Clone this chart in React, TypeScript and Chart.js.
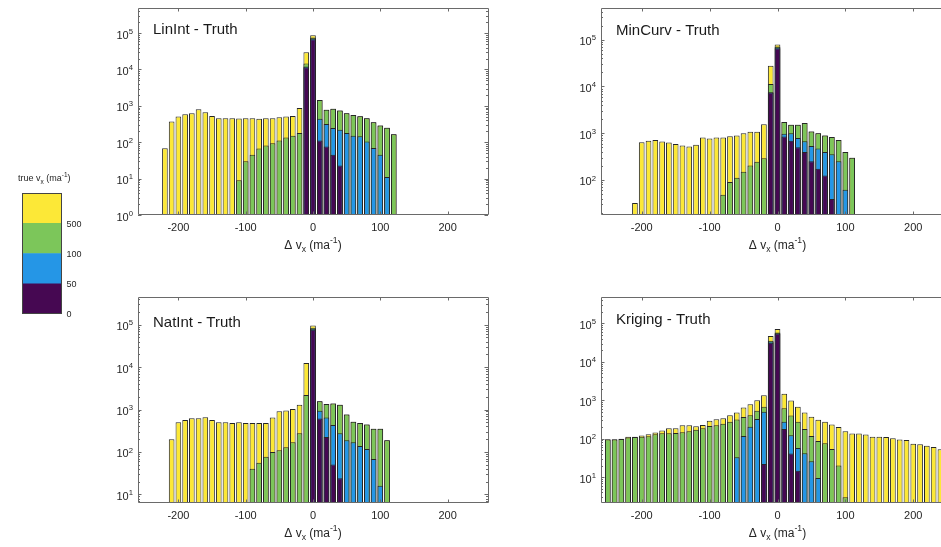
import React, { useEffect, useRef } from 'react';
import { Chart, registerables } from 'chart.js';

Chart.register(...registerables);

const FONT = '"Liberation Sans", Arial, Helvetica, sans-serif';
const TEXT = '#262626';
const AXIS = '#6a6a6a';
const EDGE = '#262626';

// Colour classes of the true velocity (ma^-1)
const C_LT50 = '#460852';
const C_LT100 = '#2596E6';
const C_LT500 = '#7CC65A';
const C_ALL = '#FCE837';

const xTicks = [-200, -100, 0, 100, 200];
const xMin = -260;
const xMax = 260;

// ---- LinInt - Truth ----
const linBins = [-220, -210, -200, -190, -180, -170, -160, -150, -140, -130, -120, -110, -100, -90, -80, -70, -60, -50, -40, -30, -20, -10, 0, 10, 20, 30, 40, 50, 60, 70, 80, 90, 100, 110, 120];
const linAll = [68, 372, 510, 590, 630, 810, 670, 525, 455, 455, 455, 450, 460, 460, 440, 460, 460, 490, 510, 525, 870, 30000, 88000, 1460, 780, 830, 740, 630, 565, 520, 455, 356, 290, 250, 167];
const linLt500 = [null, null, null, null, null, null, null, null, null, null, null, 9, 30, 45, 67, 81, 94, 112, 135, 150, 180, 14500, 76000, 1460, 780, 830, 740, 630, 565, 520, 455, 356, 290, 250, 167];
const linLt100 = [null, null, null, null, null, null, null, null, null, null, null, null, null, null, null, null, null, null, null, null, null, 12000, 72000, 440, 317, 245, 220, 180, 150, 145, 105, 70, 45, 11, null];
const linLt50 = [null, null, null, null, null, null, null, null, null, null, null, null, null, null, null, null, null, null, null, null, null, 11500, 68000, 112, 76, 45, 23, null, null, null, null, null, null, null, null];

// ---- MinCurv - Truth ----
const minBins = [-210, -200, -190, -180, -170, -160, -150, -140, -130, -120, -110, -100, -90, -80, -70, -60, -50, -40, -30, -20, -10, 0, 10, 20, 30, 40, 50, 60, 70, 80, 90, 100, 110];
const minAll = [32, 645, 690, 720, 665, 630, 590, 545, 520, 570, 815, 770, 810, 810, 865, 890, 1000, 1070, 1070, 1560, 27800, 79000, 1740, 1510, 1510, 1660, 1090, 1000, 890, 830, 720, 395, 300];
const minLt500 = [null, null, null, null, null, null, null, null, null, null, null, null, null, 48, 90, 112, 150, 205, 245, 290, 11300, 72000, 1740, 1510, 1510, 1660, 1090, 1000, 890, 830, 720, 395, 300];
const minLt100 = [null, null, null, null, null, null, null, null, null, null, null, null, null, null, null, null, null, null, null, null, 7500, 69000, 980, 1000, 790, 675, 535, 470, 395, 355, 250, 62, null];
const minLt50 = [null, null, null, null, null, null, null, null, null, null, null, null, null, null, null, null, null, null, null, null, 7400, 66000, 850, 690, 500, 395, 250, 173, 124, 39, null, null, null];

// ---- NatInt - Truth ----
const natBins = [-210, -200, -190, -180, -170, -160, -150, -140, -130, -120, -110, -100, -90, -80, -70, -60, -50, -40, -30, -20, -10, 0, 10, 20, 30, 40, 50, 60, 70, 80, 90, 100, 110];
const natAll = [200, 500, 565, 625, 625, 660, 565, 500, 500, 480, 500, 480, 480, 480, 480, 650, 910, 950, 1030, 1300, 12600, 96000, 1580, 1350, 1390, 1300, 760, 515, 480, 445, 355, 355, 190];
const natLt500 = [null, null, null, null, null, null, null, null, null, null, null, null, 40, 56, 77, 100, 110, 130, 170, 275, 2200, 85000, 1580, 1350, 1390, 1300, 760, 515, 480, 445, 355, 355, 190];
const natLt100 = [null, null, null, null, null, null, null, null, null, null, null, null, null, null, null, null, null, null, null, null, null, 80000, 940, 650, 430, 275, 190, 170, 138, 117, 68, 16, null];
const natLt50 = [null, null, null, null, null, null, null, null, null, null, null, null, null, null, null, null, null, null, null, null, null, 76000, 615, 225, 51, 24, null, null, null, null, null, null, null];

// ---- Kriging - Truth ----
const krgBins = [-250, -240, -230, -220, -210, -200, -190, -180, -170, -160, -150, -140, -130, -120, -110, -100, -90, -80, -70, -60, -50, -40, -30, -20, -10, 0, 10, 20, 30, 40, 50, 60, 70, 80, 90, 100, 110, 120, 130, 140, 150, 160, 170, 180, 190, 200, 210, 220, 230, 240];
const krgAll = [97, 97, 100, 113, 113, 121, 131, 145, 163, 187, 187, 223, 223, 210, 228, 295, 320, 340, 405, 480, 645, 790, 1000, 1350, 47500, 72000, 1480, 980, 680, 480, 370, 310, 275, 235, 200, 155, 136, 136, 129, 113, 113, 110, 103, 95, 93, 74, 72, 65, 61, 53];
const krgLt500 = [95, 95, 98, 108, 110, 113, 115, 131, 138, 138, 140, 147, 155, 170, 187, 215, 225, 245, 275, 315, 365, 405, 535, 680, 35600, 58000, 620, 400, 275, 178, 118, 87, 76, 54, 20, 3, null, null, null, null, null, null, null, null, null, null, null, null, null, null];
const krgLt100 = [null, null, null, null, null, null, null, null, null, null, null, null, null, null, null, null, null, null, null, 33, 118, 205, 325, 500, 34000, 56000, 275, 123, 57, 42, 26, 9.4, null, null, null, null, null, null, null, null, null, null, null, null, null, null, null, null, null, null];
const krgLt50 = [null, null, null, null, null, null, null, null, null, null, null, null, null, null, null, null, null, null, null, null, null, null, null, 22, 31500, 55000, 178, 41, 14.5, null, null, null, null, null, null, null, null, null, null, null, null, null, null, null, null, null, null, null, null, null];

// ---- colour bar ----
const cbTickLabels = ['0', '50', '100', '500'];
const cbColors = [C_LT50, C_LT100, C_LT500, C_ALL];

type Seg = { t: string; k?: 'sub' | 'sup' };

function drawRich(
  ctx: CanvasRenderingContext2D,
  segs: Seg[],
  x: number,
  y: number,
  size: number,
  align: 'left' | 'center' | 'right',
  color: string,
  smallScale = 0.72,
  supRaise = 0.42,
  subDrop = 0.28,
) {
  const small = size * smallScale;
  const widths = segs.map((s) => {
    ctx.font = `${s.k ? small : size}px ${FONT}`;
    return ctx.measureText(s.t).width;
  });
  const total = widths.reduce((a, b) => a + b, 0);
  let cx = align === 'left' ? x : align === 'center' ? x - total / 2 : x - total;
  ctx.save();
  ctx.fillStyle = color;
  ctx.textAlign = 'left';
  ctx.textBaseline = 'alphabetic';
  segs.forEach((s, i) => {
    ctx.font = `${s.k ? small : size}px ${FONT}`;
    const dy = s.k === 'sub' ? size * subDrop : s.k === 'sup' ? -size * supRaise : 0;
    ctx.fillText(s.t, cx, y + dy);
    cx += widths[i];
  });
  ctx.restore();
}

const xTitle: Seg[] = [{ t: '\u0394 v' }, { t: 'x', k: 'sub' }, { t: ' (ma' }, { t: '-1', k: 'sup' }, { t: ')' }];
const cbTitle: Seg[] = [{ t: 'true v' }, { t: 'x', k: 'sub' }, { t: ' (ma' }, { t: '-1', k: 'sup' }, { t: ')' }];

const PAD_L = 50;
const PAD_T = 10;
const PAD_R = 10;
const PAD_B = 45;

type Rect = { x: number; y: number; w: number; h: number };

type PanelProps = {
  title: string;
  titleDy: number;
  bins: number[];
  all: (number | null)[];
  lt500: (number | null)[];
  lt100: (number | null)[];
  lt50: (number | null)[];
  yMin: number;
  yMax: number;
  rect: Rect;
};

function points(bins: number[], vals: (number | null)[]) {
  return bins
    .map((b, i) => ({ x: b, y: vals[i] }))
    .filter((p) => p.y !== null && p.y !== undefined) as { x: number; y: number }[];
}

function HistPanel(props: PanelProps) {
  const ref = useRef<HTMLCanvasElement | null>(null);
  const { rect } = props;
  const cw = rect.w + PAD_L + PAD_R;
  const ch = rect.h + PAD_T + PAD_B;

  useEffect(() => {
    if (!ref.current) return;
    const { title, titleDy, bins, all, lt500, lt100, lt50, yMin, yMax } = props;

    const frame = {
      id: 'frame',
      afterDraw(chart: any) {
        const ctx: CanvasRenderingContext2D = chart.ctx;
        const ca = chart.chartArea;
        const xs = chart.scales.x;
        const ys = chart.scales.y;
        ctx.save();
        ctx.strokeStyle = AXIS;
        ctx.lineWidth = 1;
        ctx.beginPath();
        ctx.rect(Math.round(ca.left) + 0.5, Math.round(ca.top) + 0.5, Math.round(ca.right - ca.left), Math.round(ca.bottom - ca.top) - 1);
        ctx.stroke();

        // x ticks on the bottom and top edges
        ctx.beginPath();
        xs.ticks.forEach((t: any) => {
          const px = Math.round(xs.getPixelForValue(t.value)) + 0.5;
          ctx.moveTo(px, ca.bottom);
          ctx.lineTo(px, ca.bottom - 3.5);
          ctx.moveTo(px, ca.top);
          ctx.lineTo(px, ca.top + 3.5);
        });
        // decade and minor ticks on the left and right edges
        const k0 = Math.ceil(Math.log10(yMin) - 1e-9);
        const k1 = Math.floor(Math.log10(yMax) + 1e-9);
        for (let k = k0 - 1; k <= k1; k++) {
          for (let m = 1; m <= 9; m++) {
            const v = m * Math.pow(10, k);
            if (v < yMin || v > yMax) continue;
            const py = Math.round(ys.getPixelForValue(v)) + 0.5;
            const len = m === 1 ? 3.5 : 2;
            ctx.moveTo(ca.left, py);
            ctx.lineTo(ca.left + len, py);
            ctx.moveTo(ca.right, py);
            ctx.lineTo(ca.right - len, py);
          }
        }
        ctx.stroke();

        // tick labels
        ctx.fillStyle = TEXT;
        ctx.font = `11px ${FONT}`;
        ctx.textAlign = 'center';
        ctx.textBaseline = 'middle';
        xs.ticks.forEach((t: any) => {
          ctx.fillText(String(t.value), xs.getPixelForValue(t.value), ca.bottom + 12.5);
        });
        for (let k = k0; k <= k1; k++) {
          const py = ys.getPixelForValue(Math.pow(10, k));
          drawRich(ctx, [{ t: '10' }, { t: String(k), k: 'sup' }], ca.left - 5, py + 5.5, 11, 'right', TEXT, 0.7, 0.45);
        }

        // axis title
        drawRich(ctx, xTitle, (ca.left + ca.right) / 2, ca.bottom + 33.5, 12, 'center', TEXT);

        // panel label
        ctx.fillStyle = '#1a1a1a';
        ctx.font = `15px ${FONT}`;
        ctx.textAlign = 'left';
        ctx.textBaseline = 'alphabetic';
        ctx.fillText(title, ca.left + 15, ca.top + titleDy);
        ctx.restore();
      },
    };

    const barStyle = {
      borderColor: EDGE,
      borderWidth: 1,
      borderSkipped: false as const,
      grouped: false,
      categoryPercentage: 1,
      barPercentage: 0.84,
    };

    const chart = new Chart(ref.current, {
      type: 'bar',
      data: {
        datasets: [
          { label: '0-50', data: points(bins, lt50), backgroundColor: C_LT50, ...barStyle },
          { label: '50-100', data: points(bins, lt100), backgroundColor: C_LT100, ...barStyle },
          { label: '100-500', data: points(bins, lt500), backgroundColor: C_LT500, ...barStyle },
          { label: 'all', data: points(bins, all), backgroundColor: C_ALL, ...barStyle },
        ],
      },
      options: {
        responsive: false,
        animation: false,
        devicePixelRatio: 1,
        events: [],
        layout: { padding: { top: PAD_T, right: PAD_R, left: 0, bottom: 0 } },
        plugins: {
          legend: { display: false },
          tooltip: { enabled: false },
          title: { display: false },
        },
        scales: {
          x: {
            type: 'linear',
            min: xMin,
            max: xMax,
            offset: false,
            grid: { display: false, drawTicks: false },
            border: { display: false },
            ticks: { display: false },
            afterBuildTicks: (s: any) => {
              s.ticks = xTicks.map((v) => ({ value: v }));
            },
            afterFit: (s: any) => {
              s.height = PAD_B;
            },
          },
          y: {
            type: 'logarithmic',
            min: yMin,
            max: yMax,
            grid: { display: false, drawTicks: false },
            border: { display: false },
            ticks: { display: false },
            afterFit: (s: any) => {
              s.width = PAD_L;
            },
          },
        },
      } as any,
      plugins: [frame],
    });
    return () => chart.destroy();
  }, []);

  return (
    <div style={{ position: 'absolute', left: rect.x - PAD_L, top: rect.y - PAD_T, width: cw, height: ch }}>
      <canvas ref={ref} width={cw} height={ch} />
    </div>
  );
}

function ColorBar() {
  const ref = useRef<HTMLCanvasElement | null>(null);
  const W = 100;
  const H = 165;
  useEffect(() => {
    if (!ref.current) return;
    const deco = {
      id: 'cbdeco',
      afterDraw(chart: any) {
        const ctx: CanvasRenderingContext2D = chart.ctx;
        const ca = chart.chartArea;
        const ys = chart.scales.y;
        ctx.save();
        ctx.strokeStyle = '#444';
        ctx.lineWidth = 1;
        ctx.strokeRect(Math.round(ca.left) + 0.5, Math.round(ca.top) + 0.5, Math.round(ca.right - ca.left) - 1, Math.round(ca.bottom - ca.top) - 1);
        ctx.fillStyle = TEXT;
        ctx.font = `9px ${FONT}`;
        ctx.textAlign = 'left';
        ctx.textBaseline = 'middle';
        cbTickLabels.forEach((lab, i) => {
          ctx.fillText(lab, ca.right + 4.5, ys.getPixelForValue(i) + 1);
        });
        drawRich(ctx, cbTitle, 18, ca.top - 12, 9, 'left', TEXT);
        ctx.restore();
      },
    };
    const chart = new Chart(ref.current, {
      type: 'bar',
      data: {
        labels: ['v'],
        datasets: cbColors.map((c, i) => ({
          label: cbTickLabels[i],
          data: [1],
          backgroundColor: c,
          borderWidth: 0,
          categoryPercentage: 1,
          barPercentage: 1,
        })),
      },
      options: {
        responsive: false,
        animation: false,
        devicePixelRatio: 1,
        events: [],
        layout: { padding: { left: 22, right: 38, top: 28, bottom: 16 } },
        plugins: { legend: { display: false }, tooltip: { enabled: false } },
        scales: {
          x: { stacked: true, display: false },
          y: { stacked: true, display: false, min: 0, max: cbColors.length },
        },
      } as any,
      plugins: [deco],
    });
    return () => chart.destroy();
  }, []);
  return (
    <div style={{ position: 'absolute', left: 0, top: 165, width: W, height: H }}>
      <canvas ref={ref} width={W} height={H} />
    </div>
  );
}

export default function App() {
  return (
    <div
      style={{
        position: 'absolute',
        left: 0,
        top: 0,
        width: 941,
        height: 547,
        overflow: 'hidden',
        background: '#ffffff',
      }}
    >
      <ColorBar />
      <HistPanel title="LinInt - Truth" titleDy={26} bins={linBins} all={linAll} lt500={linLt500} lt100={linLt100} lt50={linLt50} yMin={1} yMax={4.9e5} rect={{ x: 138, y: 8, w: 350, h: 207 }} />
      <HistPanel title="MinCurv - Truth" titleDy={26.7} bins={minBins} all={minAll} lt500={minLt500} lt100={minLt100} lt50={minLt50} yMin={17.8} yMax={4.78e5} rect={{ x: 601, y: 8, w: 353, h: 207 }} />
      <HistPanel title="NatInt - Truth" titleDy={29.5} bins={natBins} all={natAll} lt500={natLt500} lt100={natLt100} lt50={natLt50} yMin={6.27} yMax={4.5e5} rect={{ x: 138, y: 297, w: 350, h: 206 }} />
      <HistPanel title="Kriging - Truth" titleDy={26.7} bins={krgBins} all={krgAll} lt500={krgLt500} lt100={krgLt100} lt50={krgLt50} yMin={2.11} yMax={4.9e5} rect={{ x: 601, y: 297, w: 353, h: 206 }} />
    </div>
  );
}
